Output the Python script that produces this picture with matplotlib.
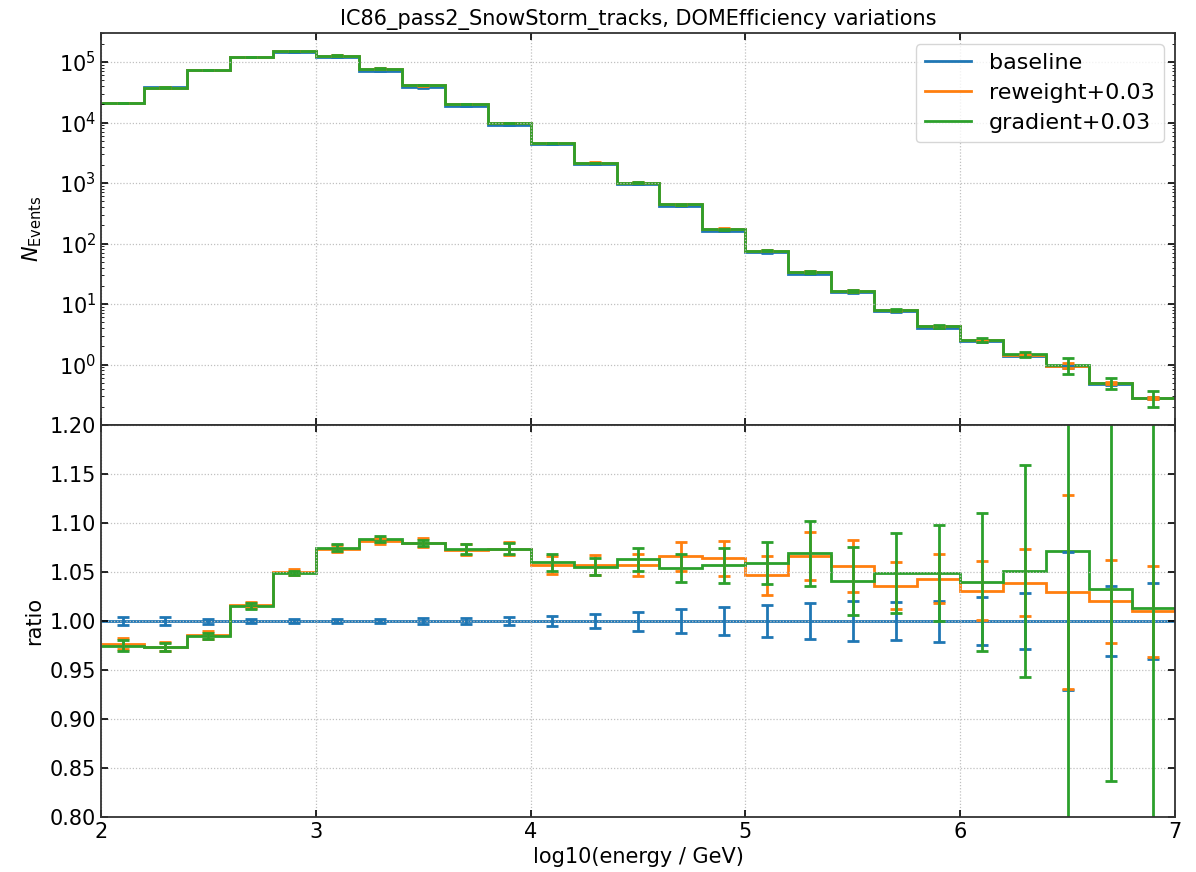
import numpy as np
import matplotlib
matplotlib.use("Agg")
import matplotlib.pyplot as plt

# log10(E/GeV) binning: 25 bins of width 0.2 between 2 and 7
bin_edges = np.linspace(2.0, 7.0, 26)

# baseline event counts per bin
baseline = np.array([2.13e4, 3.88e4, 7.4e4, 1.19e5, 1.44e5, 1.19e5, 7.2e4, 3.8e4,
                     1.88e4, 9.1e3, 4.36e3, 2.05e3, 9.6e2, 4.2e2, 1.64e2, 72.0,
                     32.0, 15.6, 7.6, 4.1, 2.44, 1.40, 0.93, 0.48, 0.277])

# variation / baseline
ratio_reweight = np.array([0.977, 0.974, 0.986, 1.016, 1.050, 1.074, 1.082, 1.080,
                           1.073, 1.074, 1.057, 1.057, 1.057, 1.066, 1.064, 1.047,
                           1.066, 1.0565, 1.036, 1.043, 1.031, 1.039, 1.030, 1.020,
                           1.010])
ratio_gradient = np.array([0.975, 0.9735, 0.985, 1.015, 1.049, 1.075, 1.084, 1.080,
                           1.0735, 1.074, 1.060, 1.0555, 1.063, 1.054, 1.057, 1.0595,
                           1.069, 1.041, 1.049, 1.049, 1.040, 1.051, 1.072, 1.033,
                           1.013])

# relative statistical uncertainties per bin
rel_err_baseline = np.array([0.004, 0.004, 0.0025, 0.002, 0.0017, 0.002, 0.002, 0.0028,
                             0.003, 0.004, 0.005, 0.0075, 0.0097, 0.012, 0.0145, 0.016,
                             0.0187, 0.0206, 0.0197, 0.021, 0.0245, 0.0284, 0.0707,
                             0.0357, 0.039])
rel_err_reweight = np.array([0.006, 0.005, 0.004, 0.003, 0.003, 0.003, 0.003, 0.004,
                             0.005, 0.006, 0.0085, 0.0095, 0.0105, 0.014, 0.017, 0.019,
                             0.023, 0.025, 0.023, 0.024, 0.029, 0.033, 0.096, 0.042,
                             0.046])
rel_err_gradient = np.array([0.0056, 0.0041, 0.003, 0.003, 0.002, 0.003, 0.003, 0.003,
                             0.0047, 0.0056, 0.0082, 0.0085, 0.011, 0.0136, 0.017, 0.020,
                             0.031, 0.033, 0.039, 0.047, 0.068, 0.103, 0.31, 0.19, 0.30])

labels = ["baseline", "reweight+0.03", "gradient+0.03"]
colors = ["C0", "C1", "C2"]

plt.rcParams.update({
    "font.family": "DejaVu Sans",
    "font.size": 15,
    "axes.edgecolor": "#333333",
    "axes.linewidth": 1.3,
    "grid.color": "#c0c0c0",
    "grid.linestyle": (0, (1, 1.5)),
    "grid.linewidth": 0.9,
})

centers = 0.5 * (bin_edges[1:] + bin_edges[:-1])
ratios = [np.ones_like(baseline), ratio_reweight, ratio_gradient]
rel_errs = [rel_err_baseline, rel_err_reweight, rel_err_gradient]

fig, (ax1, ax2) = plt.subplots(2, 1, sharex=True, figsize=(11.96, 8.72), dpi=100)
fig.subplots_adjust(left=0.0845, right=0.9824, top=0.962, bottom=0.063, hspace=0)

for r, rel, c, lab in zip(ratios, rel_errs, colors, labels):
    counts = baseline * r
    ax1.stairs(counts, bin_edges, baseline=None, color=c, lw=2, label=lab)
    ax1.errorbar(centers, counts, yerr=counts * rel, fmt="none", ecolor=c,
                 elinewidth=2, capsize=4, capthick=2)
    ax2.stairs(r, bin_edges, baseline=None, color=c, lw=2)
    ax2.errorbar(centers, r, yerr=r * rel, fmt="none", ecolor=c,
                 elinewidth=2, capsize=4, capthick=2)

ax1.set_yscale("log")
ax1.set_ylim(0.1, 3e5)
ax1.set_yticks([1e0, 1e1, 1e2, 1e3, 1e4, 1e5])
ax1.set_ylabel(r"$N_\mathrm{Events}$")
ax1.set_title("IC86_pass2_SnowStorm_tracks, DOMEfficiency variations", fontsize=15)
ax1.legend(loc="upper right", fontsize=16, labelspacing=0.45, handlelength=2.1)

ax2.set_xlim(2, 7)
ax2.set_ylim(0.8, 1.2)
ax2.set_yticks(np.arange(0.80, 1.201, 0.05))
ax2.set_ylabel("ratio")
ax2.set_xlabel("log10(energy / GeV)")

for ax in (ax1, ax2):
    ax.grid(True, which="major")
    ax.tick_params(which="both", direction="in", top=True, right=True)
    ax.tick_params(which="major", length=5, width=1.2)
ax2.tick_params(axis="x", which="minor", bottom=False, top=False)
fig.align_ylabels([ax1, ax2])

fig.savefig("out.png", dpi=100)
plt.close(fig)
